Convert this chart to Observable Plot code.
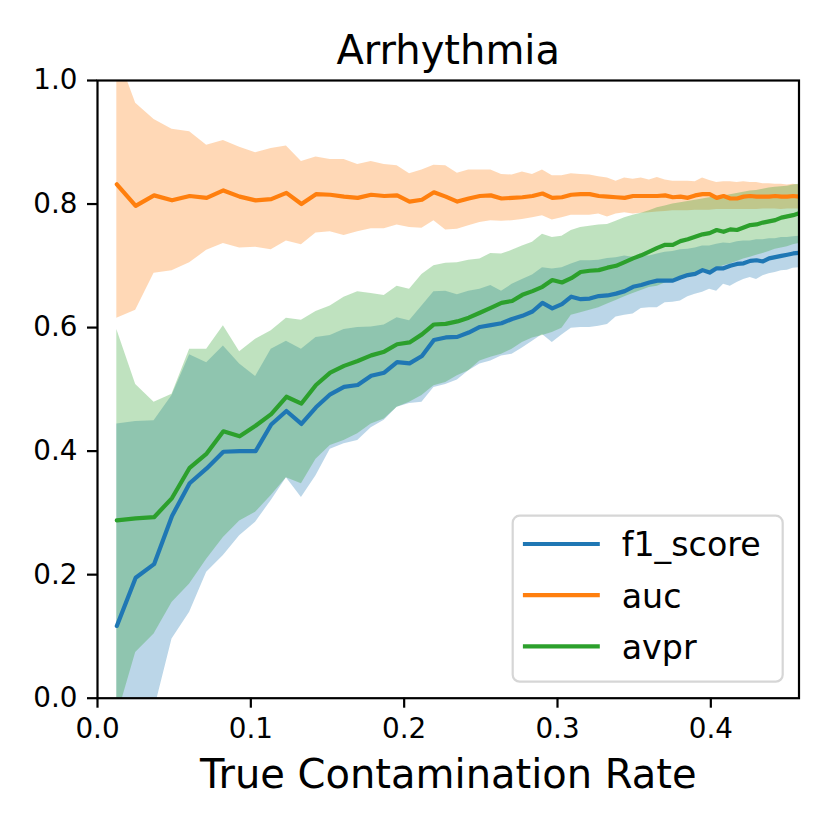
<!DOCTYPE html>
<html>
<head>
<meta charset="utf-8">
<script src="https://cdn.jsdelivr.net/npm/d3@7"></script>
<script src="https://cdn.jsdelivr.net/npm/@observablehq/plot@0.6"></script>
<style>
  body { margin: 0; background: #fff; }
  #chart { width: 830px; height: 830px; }
</style>
</head>
<body>
<div id="chart"></div>
<script>
const title = "Arrhythmia";
const xLabel = "True Contamination Rate";
const metrics = ["f1_score", "auc", "avpr"];
const colors = ["#1f77b4", "#ff7f0e", "#2ca02c"];
const xTicks = [0, 0.1, 0.2, 0.3, 0.4];
const yTicks = [0, 0.2, 0.4, 0.6, 0.8, 1.0];

const rate = [0.0126,0.0249,0.0369,0.0486,0.0601,0.0712,0.0821,0.0927,0.1031,0.1133,
  0.1232,0.1330,0.1425,0.1518,0.1608,0.1697,0.1785,0.1870,0.1954,0.2035,
  0.2116,0.2194,0.2271,0.2347,0.2421,0.2494,0.2565,0.2635,0.2704,0.2771,
  0.2837,0.2902,0.2966,0.3029,0.3090,0.3151,0.3210,0.3269,0.3326,0.3382,
  0.3438,0.3493,0.3546,0.3599,0.3651,0.3702,0.3752,0.3802,0.3850,0.3898,
  0.3946,0.3992,0.4038,0.4083,0.4127,0.4171,0.4214,0.4257,0.4298,0.4340,
  0.4380,0.4420,0.4460,0.4499,0.4537,0.4575];

const f1Mean = [0.117,0.195,0.217,0.295,0.348,0.372,0.399,0.400,0.400,0.443,
  0.465,0.444,0.471,0.492,0.504,0.507,0.522,0.527,0.544,0.542,
  0.554,0.580,0.584,0.585,0.592,0.601,0.604,0.607,0.614,0.619,
  0.626,0.640,0.631,0.638,0.650,0.646,0.647,0.651,0.652,0.655,
  0.659,0.666,0.669,0.673,0.676,0.676,0.676,0.681,0.685,0.687,
  0.693,0.689,0.696,0.696,0.700,0.703,0.704,0.708,0.709,0.707,
  0.712,0.714,0.716,0.718,0.720,0.721];
const f1Lo = [-0.30,-0.15,-0.02,0.096,0.139,0.204,0.231,0.263,0.285,0.320,
  0.357,0.325,0.360,0.403,0.412,0.417,0.438,0.450,0.471,0.477,
  0.479,0.503,0.508,0.515,0.530,0.541,0.546,0.554,0.557,0.567,
  0.578,0.589,0.576,0.588,0.599,0.600,0.600,0.602,0.605,0.617,
  0.620,0.622,0.631,0.632,0.632,0.640,0.641,0.643,0.650,0.654,
  0.657,0.662,0.659,0.670,0.667,0.673,0.678,0.681,0.678,0.684,
  0.687,0.689,0.692,0.693,0.696,0.697];
const f1Hi = [0.444,0.448,0.449,0.490,0.556,0.543,0.570,0.541,0.521,0.565,
  0.578,0.565,0.584,0.587,0.597,0.600,0.601,0.604,0.616,0.611,
  0.635,0.658,0.659,0.653,0.659,0.662,0.668,0.659,0.670,0.678,
  0.685,0.697,0.695,0.697,0.703,0.708,0.708,0.709,0.712,0.713,
  0.716,0.714,0.717,0.716,0.719,0.722,0.723,0.726,0.727,0.729,
  0.732,0.732,0.735,0.737,0.736,0.739,0.740,0.740,0.742,0.742,
  0.744,0.744,0.746,0.746,0.747,0.748];

const aucMean = [0.832,0.797,0.814,0.806,0.813,0.810,0.822,0.812,0.806,0.808,
  0.818,0.800,0.816,0.815,0.812,0.810,0.815,0.813,0.814,0.804,
  0.807,0.819,0.812,0.804,0.809,0.813,0.814,0.809,0.810,0.811,
  0.813,0.817,0.810,0.811,0.815,0.816,0.816,0.813,0.812,0.811,
  0.810,0.813,0.813,0.813,0.813,0.814,0.811,0.812,0.810,0.814,
  0.816,0.816,0.810,0.813,0.809,0.809,0.812,0.813,0.812,0.812,
  0.812,0.813,0.812,0.812,0.813,0.812];
const aucLo = [0.615,0.628,0.688,0.692,0.705,0.725,0.736,0.729,0.730,0.726,
  0.740,0.734,0.753,0.755,0.749,0.755,0.760,0.760,0.766,0.762,
  0.761,0.773,0.758,0.759,0.765,0.770,0.773,0.772,0.773,0.775,
  0.778,0.781,0.774,0.778,0.782,0.782,0.782,0.784,0.779,0.784,
  0.786,0.784,0.785,0.786,0.787,0.788,0.789,0.789,0.789,0.790,
  0.790,0.790,0.791,0.791,0.791,0.791,0.791,0.791,0.791,0.792,
  0.792,0.792,0.791,0.792,0.792,0.792];
const aucHi = [1.046,0.963,0.937,0.921,0.917,0.895,0.903,0.892,0.883,0.890,
  0.894,0.869,0.876,0.872,0.872,0.864,0.869,0.864,0.862,0.849,
  0.855,0.863,0.862,0.850,0.855,0.855,0.855,0.848,0.847,0.852,
  0.848,0.855,0.846,0.846,0.849,0.848,0.847,0.844,0.842,0.837,
  0.842,0.840,0.842,0.839,0.843,0.839,0.837,0.837,0.837,0.836,
  0.842,0.838,0.835,0.836,0.836,0.835,0.836,0.835,0.835,0.833,
  0.833,0.832,0.832,0.831,0.832,0.831];

const avprMean = [0.288,0.291,0.293,0.324,0.373,0.396,0.432,0.424,0.441,0.460,
  0.488,0.477,0.507,0.527,0.538,0.546,0.555,0.561,0.573,0.576,
  0.589,0.605,0.606,0.610,0.616,0.624,0.632,0.640,0.643,0.653,
  0.659,0.666,0.677,0.673,0.680,0.690,0.692,0.693,0.697,0.700,
  0.706,0.712,0.717,0.723,0.729,0.734,0.734,0.740,0.743,0.747,
  0.751,0.753,0.758,0.755,0.759,0.758,0.762,0.766,0.767,0.770,
  0.772,0.774,0.778,0.780,0.782,0.785];
const avprLo = [-0.031,0.074,0.104,0.155,0.185,0.225,0.260,0.287,0.301,0.328,
  0.357,0.347,0.387,0.409,0.417,0.428,0.444,0.452,0.471,0.479,
  0.490,0.506,0.511,0.522,0.530,0.546,0.552,0.557,0.565,0.576,
  0.583,0.587,0.592,0.599,0.620,0.624,0.628,0.632,0.638,0.644,
  0.650,0.655,0.660,0.665,0.667,0.672,0.676,0.680,0.684,0.687,
  0.689,0.692,0.696,0.700,0.703,0.707,0.711,0.714,0.717,0.720,
  0.723,0.727,0.729,0.731,0.734,0.736];
const avprHi = [0.597,0.508,0.479,0.492,0.565,0.565,0.603,0.561,0.581,0.595,
  0.615,0.612,0.626,0.635,0.649,0.658,0.655,0.652,0.667,0.662,
  0.686,0.700,0.704,0.705,0.709,0.711,0.720,0.719,0.725,0.732,
  0.738,0.751,0.746,0.748,0.757,0.762,0.764,0.766,0.767,0.772,
  0.778,0.782,0.785,0.789,0.794,0.797,0.800,0.802,0.804,0.806,
  0.808,0.810,0.812,0.813,0.815,0.817,0.819,0.821,0.822,0.824,
  0.826,0.827,0.828,0.829,0.831,0.832];

const means = [f1Mean, aucMean, avprMean];
const los = [f1Lo, aucLo, avprLo];
const his = [f1Hi, aucHi, avprHi];
const series = metrics.map((m, i) => rate.map((x, j) => ({metric: m, x, mean: means[i][j], lo: los[i][j], hi: his[i][j]})));

const W = 830, H = 830;
const mL = 97, mR = 31.5, mT = 80, mB = 132.3;
const tickFont = 27.8;

const plot = Plot.plot({
  width: W, height: H,
  marginLeft: mL, marginRight: mR, marginTop: mT, marginBottom: mB,
  style: {fontFamily: "'DejaVu Sans', sans-serif", background: "white", color: "black"},
  x: {domain: [0, rate[rate.length - 1]]},
  y: {domain: [0, 1]},
  marks: [
    ...series.map((s, i) => Plot.areaY(s, {x: "x", y1: "lo", y2: "hi", fill: colors[i], fillOpacity: 0.3, clip: true})),
    ...series.map((s, i) => Plot.lineY(s, {x: "x", y: "mean", stroke: colors[i], strokeWidth: 4.2, clip: true})),
    Plot.axisX({ticks: xTicks, tickSize: 10, tickPadding: 10, fontSize: tickFont, strokeWidth: 2.2, tickFormat: d => d.toFixed(1), label: null}),
    Plot.axisY({ticks: yTicks, tickSize: 10, tickPadding: 10, fontSize: tickFont, strokeWidth: 2.2, tickFormat: d => d.toFixed(1), label: null}),
    Plot.frame({stroke: "black", strokeWidth: 2.2}),
    Plot.text([title], {text: d => d, frameAnchor: "top", lineAnchor: "bottom", dy: -17, fontSize: 40}),
    Plot.text([xLabel], {text: d => d, frameAnchor: "bottom", lineAnchor: "bottom", dy: 90, fontSize: 40})
  ]
});

// Legend (inside lower right of the axes, matplotlib style)
const svg = d3.select(plot);
const frameRight = W - mR, frameBottom = H - mB;
const boxW = 270, boxH = 166;
const bx = frameRight - 15.8 - boxW, by = frameBottom - 16 - boxH;
const lg = svg.append("g").attr("font-family", "'DejaVu Sans', sans-serif").attr("text-anchor", "start");
lg.append("rect").attr("x", bx).attr("y", by).attr("width", boxW).attr("height", boxH)
  .attr("rx", 7).attr("fill", "white").attr("fill-opacity", 0.8)
  .attr("stroke", "#d6d6d6").attr("stroke-width", 2.2);
metrics.forEach((m, i) => {
  const ly = by + 28.3 + i * 51.2;
  lg.append("line").attr("x1", bx + 12.3).attr("x2", bx + 85).attr("y1", ly).attr("y2", ly)
    .attr("stroke", colors[i]).attr("stroke-width", 4.2).attr("stroke-linecap", "square");
  lg.append("text").attr("x", bx + 109).attr("y", ly + 12.4).attr("font-size", 33.3)
    .attr("text-anchor", "start").attr("fill", "black").text(m);
});

document.getElementById("chart").appendChild(plot);
</script>
</body>
</html>
